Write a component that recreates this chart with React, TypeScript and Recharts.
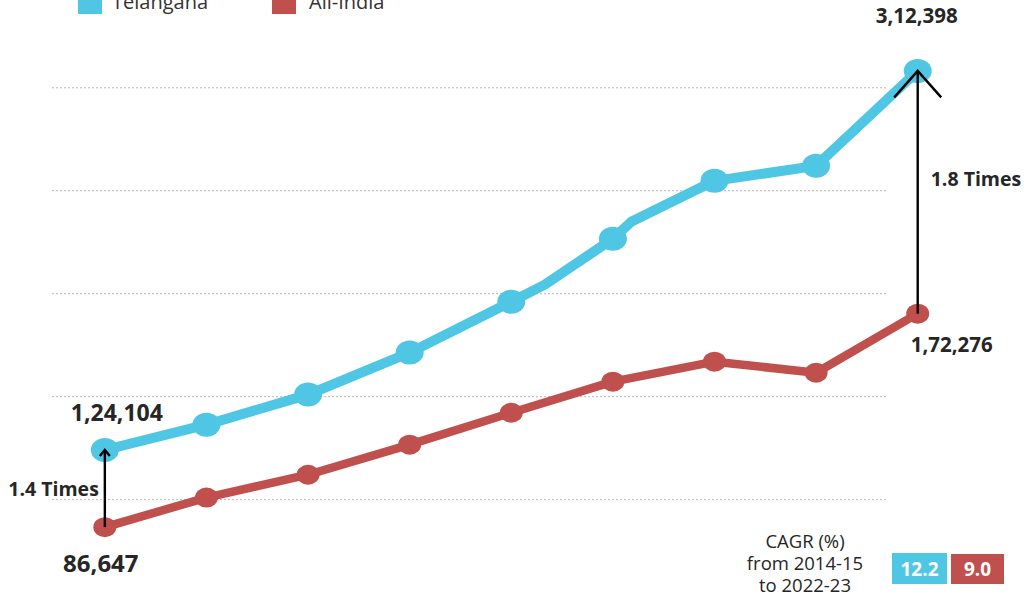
import React from 'react';
import { LineChart, Line, XAxis, YAxis, CartesianGrid, ReferenceLine, LabelList } from 'recharts';

// ---- data ----
const years = ['2014-15', '2015-16', '2016-17', '2017-18', '2018-19', '2019-20', '2020-21', '2021-22', '2022-23'];
const telangana = [124104, 136400, 151000, 171400, 196100, 226700, 254800, 262100, 308200];
const allIndia = [86647, 101000, 112100, 126700, 142200, 157300, 167000, 161600, 190300];
// bends of the Telangana line between the yearly markers (position in year index, value)
const telanganaBendPos = [4.33, 5.18];
const telanganaBendVal = [204400, 234900];
const telanganaEndLabels = ['1,24,104', '3,12,398'];
const allIndiaEndLabels = ['86,647', '1,72,276'];
const ratioLabels = ['1.4 Times', '1.8 Times'];
const gridTicks = [100000, 150000, 200000, 250000, 300000];
const seriesNames = ['Telangana', 'All-India'];
const cagrValues = ['12.2', '9.0'];
const cagrCaption = ['CAGR (%)', 'from 2014-15', 'to 2022-23'];

const TEAL = '#4FC7E4';
const RED = '#C0504D';
const FONT = "'Open Sans', sans-serif";
const TEXT = '#262626';

type Row = { x: number; year?: string; teal: number | null; red: number | null; main: boolean };

const rows: Row[] = [
  ...years.map((y, i) => ({ x: i, year: y, teal: telangana[i], red: allIndia[i], main: true })),
  ...telanganaBendPos.map((p, i) => ({ x: p, teal: telanganaBendVal[i], red: null, main: false })),
].sort((a, b) => a.x - b.x);

const last = years.length - 1;

const makeDot = (color: string, rx: number, ry: number) => (props: any) => {
  const { cx, cy, payload, index } = props;
  if (!payload || !payload.main || cy == null || cx == null) return <g key={`n-${index}`} />;
  return <ellipse key={`d-${index}`} cx={cx} cy={cy} rx={rx} ry={ry} fill={color} />;
};

const tealLabel = (props: any) => {
  const { x, y, index } = props;
  const r = rows[index];
  if (!r || !r.main) return null;
  if (r.x === 0)
    return (
      <text x={x + 12} y={y - 29} textAnchor="middle" fontFamily={FONT} fontWeight={700} fontSize={23} fill={TEXT}>
        {telanganaEndLabels[0]}
      </text>
    );
  if (r.x === last)
    return (
      <text x={x - 1} y={y - 48} textAnchor="middle" fontFamily={FONT} fontWeight={700} fontSize={20.5} fill={TEXT}>
        {telanganaEndLabels[1]}
      </text>
    );
  return null;
};

const redLabel = (props: any) => {
  const { x, y, index } = props;
  const r = rows[index];
  if (!r || !r.main) return null;
  if (r.x === 0)
    return (
      <text x={x - 4} y={y + 45} textAnchor="middle" fontFamily={FONT} fontWeight={700} fontSize={24} fill={TEXT}>
        {allIndiaEndLabels[0]}
      </text>
    );
  if (r.x === last)
    return (
      <text x={x + 34} y={y + 38} textAnchor="middle" fontFamily={FONT} fontWeight={700} fontSize={20.5} fill={TEXT}>
        {allIndiaEndLabels[1]}
      </text>
    );
  return null;
};

const arrowShape = (big: boolean, label: string) => (props: any) => {
  const { x1, y1, x2, y2 } = props;
  const mid = (y1 + y2) / 2;
  const hw = big ? 23.5 : 5;
  const hh = big ? 26.5 : 6;
  return (
    <g>
      <line x1={x1} y1={y1} x2={x2} y2={y2} stroke="#000" strokeWidth={2.4} />
      <polyline
        points={`${x2 - hw},${y2 + hh} ${x2},${y2} ${x2 + hw},${y2 + hh}`}
        fill="none"
        stroke="#000"
        strokeWidth={2.4}
      />
      {big ? (
        <text x={x2 + 13} y={mid - 6} textAnchor="start" fontFamily={FONT} fontWeight={700} fontSize={19.5} fill={TEXT}>
          {label}
        </text>
      ) : (
        <text x={x2 - 6} y={mid + 7} textAnchor="end" fontFamily={FONT} fontWeight={700} fontSize={19.5} fill={TEXT}>
          {label}
        </text>
      )}
    </g>
  );
};

export default function App() {
  return (
    <div style={{ position: 'absolute', left: 0, top: 0, width: 1035, height: 598, background: '#fff' }}>
      <LineChart width={1035} height={598} data={rows} margin={{ top: 26, right: 36, bottom: 16, left: 52 }}>
        <XAxis dataKey="x" type="number" domain={[-0.52, 8.8]} hide />
        <YAxis type="number" domain={[60000, 330000]} ticks={gridTicks} hide />
        <CartesianGrid
          vertical={false}
          syncWithTicks
          x={52}
          width={836}
          stroke="#b8b8b8"
          strokeDasharray="2 2"
        />
        <Line
          dataKey="red"
          stroke={RED}
          strokeWidth={8.5}
          strokeLinejoin="round"
          strokeLinecap="round"
          connectNulls
          dot={makeDot(RED, 11.5, 10)}
          activeDot={false}
          isAnimationActive={false}
        >
          <LabelList dataKey="red" content={redLabel} />
        </Line>
        <Line
          dataKey="teal"
          stroke={TEAL}
          strokeWidth={10}
          strokeLinejoin="round"
          strokeLinecap="round"
          connectNulls
          dot={makeDot(TEAL, 14, 12)}
          activeDot={false}
          isAnimationActive={false}
        >
          <LabelList dataKey="teal" content={tealLabel} />
        </Line>
        <ReferenceLine
          {...({ zIndex: 1500 } as any)}
          segment={[
            { x: 0, y: allIndia[0] },
            { x: 0, y: telangana[0] },
          ]}
          shape={arrowShape(false, ratioLabels[0])}
        />
        <ReferenceLine
          {...({ zIndex: 1500 } as any)}
          segment={[
            { x: last, y: allIndia[last] },
            { x: last, y: telangana[last] },
          ]}
          shape={arrowShape(true, ratioLabels[1])}
        />
      </LineChart>
      <svg
        width={1035}
        height={598}
        style={{ position: 'absolute', left: 0, top: 0, pointerEvents: 'none' }}
      >
        <rect x={78} y={-10} width={24} height={24} fill={TEAL} />
        <text x={112} y={9} fontFamily={FONT} fontSize={20} fill="#333">
          {seriesNames[0]}
        </text>
        <rect x={272} y={-10} width={24} height={24} fill={RED} />
        <text x={309} y={9} fontFamily={FONT} fontSize={20} fill="#333">
          {seriesNames[1]}
        </text>
        {cagrCaption.map((t, i) => (
          <text key={t} x={805} y={548 + i * 22} textAnchor="middle" fontFamily={FONT} fontSize={18.5} fill={TEXT}>
            {t}
          </text>
        ))}
        <rect x={892} y={553} width={55} height={31} fill={TEAL} />
        <text x={919.5} y={576} textAnchor="middle" fontFamily={FONT} fontWeight={700} fontSize={19} fill="#fff">
          {cagrValues[0]}
        </text>
        <rect x={951} y={554} width={53} height={30} fill={RED} />
        <text x={977.5} y={576} textAnchor="middle" fontFamily={FONT} fontWeight={700} fontSize={19} fill="#fff">
          {cagrValues[1]}
        </text>
      </svg>
    </div>
  );
}
